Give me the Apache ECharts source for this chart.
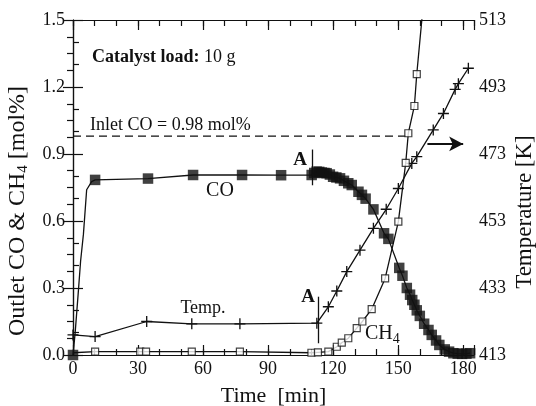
<!DOCTYPE html>
<html><head><meta charset="utf-8">
<script src="https://cdn.jsdelivr.net/npm/echarts@6/dist/echarts.min.js"></script>
<style>html,body{margin:0;padding:0;background:#fff}#c{width:536px;height:406px}</style>
</head><body><div id="c"></div>
<script>
// ---- data ----
const coTime  = [0, 10.2, 34.6, 55.4, 78, 96, 110.1, 111.3, 112.4, 113.6, 114.8, 116, 117, 118.5, 120, 121.5, 123.2, 125, 127, 128.6, 131.7, 133.3, 135, 138.6, 143.5, 145.5, 150.5, 152, 154, 155.5, 156.5, 157.5, 158.6, 160, 162, 164, 165.5, 167.5, 169, 171.5, 173.5, 175.5, 177.5, 179.5, 181.5, 183.2];
const coValue = [0, 0.784, 0.79, 0.806, 0.806, 0.805, 0.806, 0.815, 0.821, 0.82, 0.817, 0.815, 0.814, 0.808, 0.798, 0.795, 0.791, 0.78, 0.769, 0.761, 0.731, 0.717, 0.70, 0.652, 0.545, 0.52, 0.39, 0.355, 0.30, 0.27, 0.246, 0.225, 0.20, 0.175, 0.14, 0.112, 0.09, 0.065, 0.045, 0.025, 0.015, 0.008, 0.006, 0.005, 0.006, 0.008];
// CO start-up curve (line only, no markers)
const coRiseTime  = [1, 2.4, 3.5, 4.8, 6.3, 8.6];
const coRiseValue = [0.1, 0.276, 0.42, 0.54, 0.74, 0.776];

const ch4Time  = [10.2, 31, 33.7, 54.8, 77, 110, 113, 117.8, 121.7, 124, 127, 130.9, 133.5, 137.8, 144, 150.1, 153.5, 154.7, 157.5, 158.6];
const ch4Value = [0.015, 0.015, 0.015, 0.015, 0.015, 0.01, 0.012, 0.015, 0.037, 0.055, 0.075, 0.12, 0.15, 0.205, 0.343, 0.597, 0.86, 0.993, 1.115, 1.258];
// CH4 curve ends (line only)
const ch4LineTime  = [0, 161.5];
const ch4LineValue = [0.01, 1.56];

const tempTime  = [0, 10.2, 34, 54.8, 77, 112.5, 117.8, 121.7, 126.3, 132.4, 138.6, 144.5, 150.1, 156.3, 158.6, 166.2, 170.9, 176.3, 177.8, 182.4];
const tempValue = [419, 418.5, 423, 422.3, 422.3, 422.5, 427.4, 432.1, 437.9, 444.3, 450.8, 456.5, 462.7, 470.2, 472.2, 480.2, 485.1, 492.3, 494, 498.6];

const inletTime  = [0, 154];
const inletValue = [0.98, 0.98];

const xTickLabels     = [0, 30, 60, 90, 120, 150, 180];
const leftTickLabels  = [0.0, 0.3, 0.6, 0.9, 1.2, 1.5];
const rightTickLabels = [413, 433, 453, 473, 493, 513];

// ---- build ----
const pairs = (a, b) => a.map((v, i) => [v, b[i]]);
const coLine = pairs(coRiseTime, coRiseValue).concat(pairs(coTime, coValue)).sort((p, q) => p[0] - q[0]);
const ch4Line = pairs(ch4LineTime, ch4LineValue).concat(pairs(ch4Time, ch4Value)).sort((p, q) => p[0] - q[0]);

const FONT = '"Liberation Serif", "DejaVu Serif", serif';
const BLACK = '#111';
const TICK = '#111';
const plus = 'path://M4.4,0H5.6V10H4.4ZM0,4.4H10V5.6H0Z';
const MAJ = 10, MIN = 6;

const baseX = {
  type: 'value', min: 0, max: xTickLabels[xTickLabels.length - 1] + 5, gridIndex: 0,
  splitLine: { show: false }, axisLine: { show: false },
  axisLabel: { show: false }
};
const chart = echarts.init(document.getElementById('c'), null, { renderer: 'canvas' });
chart.setOption({
  backgroundColor: '#fff',
  animation: false,
  grid: { left: 73, right: 62, top: 20, bottom: 51, containLabel: false, outerBoundsMode: 'none' },
  xAxis: [
    Object.assign({}, baseX, {
      position: 'bottom', interval: 30,
      axisLine: { show: true, lineStyle: { color: BLACK, width: 1.2 } },
      axisTick: { show: true, inside: true, length: MAJ, lineStyle: { color: TICK, width: 1.2 } },
      axisLabel: { show: true, margin: 5, color: BLACK, fontFamily: FONT, fontSize: 18,
        formatter: v => (xTickLabels.indexOf(v) >= 0 ? String(v) : '') },
      name: 'Time  [min]', nameLocation: 'middle', nameGap: 30,
      nameTextStyle: { color: BLACK, fontFamily: FONT, fontSize: 22 }
    }),
    Object.assign({}, baseX, {
      position: 'bottom', interval: 10,
      axisTick: { show: true, inside: true, length: MIN, lineStyle: { color: TICK, width: 1.2 } }
    }),
    Object.assign({}, baseX, {
      position: 'top', interval: 30,
      axisLine: { show: true, lineStyle: { color: BLACK, width: 1.2 } },
      axisTick: { show: true, inside: true, length: MAJ, lineStyle: { color: TICK, width: 1.2 } }
    }),
    Object.assign({}, baseX, {
      position: 'top', interval: 10,
      axisTick: { show: true, inside: true, length: MIN, lineStyle: { color: TICK, width: 1.2 } }
    })
  ],
  yAxis: [
    {
      type: 'value', position: 'left', min: 0, max: 1.5, interval: 0.3,
      splitLine: { show: false },
      axisLine: { show: true, lineStyle: { color: BLACK, width: 1.2 } },
      axisTick: { show: true, inside: true, length: MAJ, lineStyle: { color: TICK, width: 1.2 } },
      minorTick: { show: true, splitNumber: 3, length: MIN, lineStyle: { color: TICK, width: 1.2 } },
      axisLabel: { margin: 8, color: BLACK, fontFamily: FONT, fontSize: 18,
        formatter: v => leftTickLabels.find(t => Math.abs(t - v) < 1e-6).toFixed(1) }
    },
    {
      type: 'value', position: 'right', min: 413, max: 513, interval: 20,
      splitLine: { show: false },
      axisLine: { show: true, lineStyle: { color: BLACK, width: 1.2 } },
      axisTick: { show: true, inside: true, length: MAJ, lineStyle: { color: TICK, width: 1.2 } },
      minorTick: { show: true, splitNumber: 4, length: MIN, lineStyle: { color: TICK, width: 1.2 } },
      axisLabel: { margin: 5, color: BLACK, fontFamily: FONT, fontSize: 18,
        formatter: v => (rightTickLabels.indexOf(v) >= 0 ? String(v) : '') }
    }
  ],
  series: [
    { name: 'inlet', type: 'line', data: pairs(inletTime, inletValue), symbol: 'none',
      lineStyle: { color: BLACK, width: 1.3, type: [8, 5] }, z: 2 },
    { name: 'CO curve', type: 'line', data: coLine, symbol: 'none',
      lineStyle: { color: BLACK, width: 1.3 }, z: 3,
      markLine: { silent: true, symbol: 'none', label: { show: false },
        lineStyle: { color: BLACK, width: 1.3, type: 'solid' },
        data: [[{ coord: [110.5, 0.76] }, { coord: [110.5, 0.92] }]] } },
    { name: 'CO', type: 'scatter', data: pairs(coTime, coValue), symbol: 'rect', symbolSize: 10.5,
      itemStyle: { color: BLACK }, z: 6 },
    { name: 'CH4 curve', type: 'line', data: ch4Line, symbol: 'none',
      lineStyle: { color: BLACK, width: 1.3 }, z: 3 },
    { name: 'CH4', type: 'scatter', data: pairs(ch4Time, ch4Value), symbol: 'rect', symbolSize: 7,
      itemStyle: { color: '#fff', borderColor: BLACK, borderWidth: 1.2 }, z: 5 },
    { name: 'Temp.', type: 'line', yAxisIndex: 1, data: pairs(tempTime, tempValue),
      symbol: plus, symbolSize: 11, showAllSymbol: true, itemStyle: { color: BLACK },
      lineStyle: { color: BLACK, width: 1.3 }, z: 4,
      markLine: { silent: true, label: { show: false },
        lineStyle: { color: BLACK, width: 1.3, type: 'solid' },
        data: [
          [{ coord: [113.2, 416.5], symbol: 'none' }, { coord: [113.2, 430.4], symbol: 'none' }],
          [{ coord: [163.5, 476], symbol: 'none', lineStyle: { width: 2.2 } }, { coord: [180, 476], symbol: 'arrow', symbolSize: [11, 14] }]
        ],
        symbol: ['none', 'none'] } }
  ],
  graphic: [
    { type: 'text', x: 18, y: 211, rotation: Math.PI / 2,
      style: { text: 'Outlet CO & CH{sub|4} [mol%]', fill: BLACK, font: '24px ' + FONT,
        align: 'center', verticalAlign: 'middle',
        rich: { sub: { fontSize: 15, fontFamily: FONT, fill: BLACK, verticalAlign: 'bottom', padding: [11, 0, 0, 0] } } } },
    { type: 'text', x: 525, y: 212, rotation: Math.PI / 2,
      style: { text: 'Temperature [K]', fill: BLACK, font: '23px ' + FONT, align: 'center', verticalAlign: 'middle' } },
    { type: 'text', x: 92, y: 57,
      style: { text: '{b|Catalyst load:} 10 g', fill: BLACK, font: '18px ' + FONT, verticalAlign: 'middle',
        rich: { b: { fontWeight: 'bold', fontSize: 18, fontFamily: FONT, fill: BLACK } } } },
    { type: 'text', x: 90, y: 125,
      style: { text: 'Inlet CO = 0.98 mol%', fill: BLACK, font: '18px ' + FONT, verticalAlign: 'middle' } },
    { type: 'text', x: 220, y: 191,
      style: { text: 'CO', fill: BLACK, font: '20px ' + FONT, align: 'center', verticalAlign: 'middle' } },
    { type: 'text', x: 203, y: 308,
      style: { text: 'Temp.', fill: BLACK, font: '18px ' + FONT, align: 'center', verticalAlign: 'middle' } },
    { type: 'text', x: 365, y: 334,
      style: { text: 'CH{sub|4}', fill: BLACK, font: '20px ' + FONT, verticalAlign: 'middle',
        rich: { sub: { fontSize: 14, fontFamily: FONT, fill: BLACK, verticalAlign: 'bottom', padding: [10, 0, 0, 0] } } } },
    { type: 'text', x: 300, y: 160,
      style: { text: 'A', fill: BLACK, font: 'bold 19px ' + FONT, align: 'center', verticalAlign: 'middle' } },
    { type: 'text', x: 308, y: 297,
      style: { text: 'A', fill: BLACK, font: 'bold 19px ' + FONT, align: 'center', verticalAlign: 'middle' } }
  ]
});
</script>
</body></html>
